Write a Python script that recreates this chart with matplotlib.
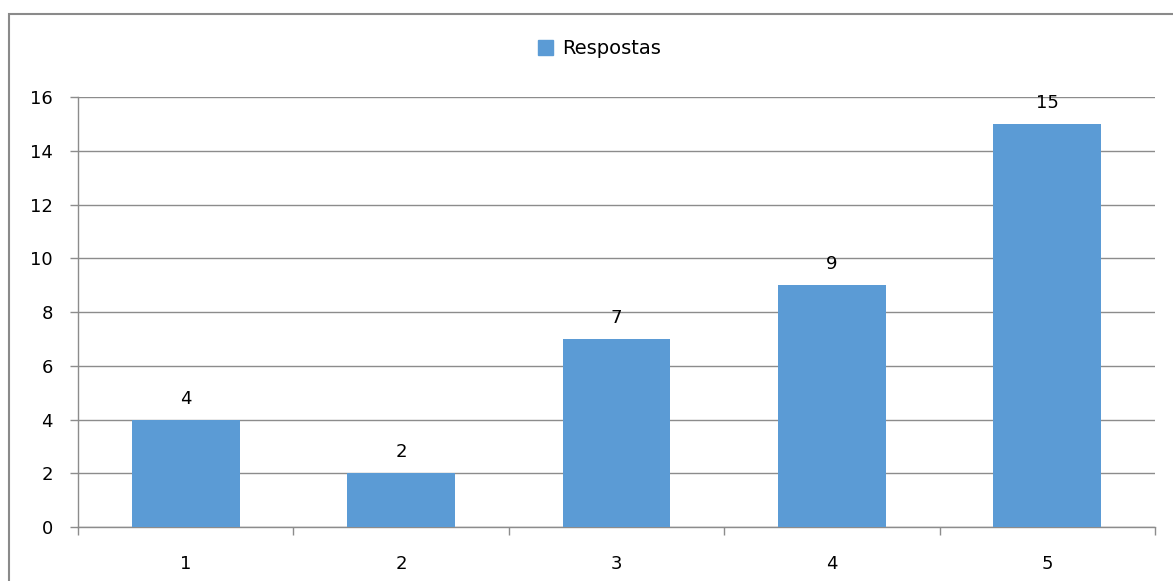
import matplotlib
matplotlib.use("Agg")
import matplotlib.pyplot as plt
from matplotlib.patches import Patch, Rectangle

# data
categories = ["1", "2", "3", "4", "5"]
respostas = [4, 2, 7, 9, 15]
yticks = [0, 2, 4, 6, 8, 10, 12, 14, 16]

bar_color = "#5B9BD5"
grid_color = "#8c8c8c"

fig = plt.figure(figsize=(11.73, 5.81), dpi=100)
ax = fig.add_axes([0.0665, 0.0929, 0.9182, 0.7401])

x = list(range(len(categories)))
bars = ax.bar(x, respostas, width=0.5, color=bar_color, zorder=3)

# value labels over each bar
for xi, v in zip(x, respostas):
    ax.annotate(str(v), (xi, v), xytext=(0, 11.5), textcoords="offset points",
                ha="center", va="baseline", fontsize=13, color="black")

ax.set_xlim(-0.5, len(categories) - 0.5)
ax.set_ylim(0, 16)
ax.set_yticks(yticks)
ax.set_yticklabels([str(t) for t in yticks], fontsize=13)

# category labels in the middle, tick marks on the boundaries
ax.set_xticks(x)
ax.set_xticklabels(categories, fontsize=13)
ax.set_xticks([i - 0.5 for i in range(len(categories) + 1)], minor=True)
ax.tick_params(axis="x", which="major", length=0, pad=20)
ax.tick_params(axis="x", which="minor", length=6, width=1, color=grid_color, direction="out")
ax.tick_params(axis="y", length=6, width=1, color=grid_color, direction="out", pad=12)

ax.yaxis.grid(True, color=grid_color, linewidth=1)
ax.set_axisbelow(True)
for side in ["top", "right"]:
    ax.spines[side].set_visible(False)
for side in ["left", "bottom"]:
    ax.spines[side].set_color(grid_color)
    ax.spines[side].set_linewidth(1)

# legend above the plot
fig.legend(handles=[Patch(color=bar_color, label="Respostas")],
           loc="center", bbox_to_anchor=(0.511, 0.916), frameon=False,
           fontsize=14, handlelength=0.8, handleheight=0.8, handletextpad=0.45)

# chart area border
fig.patches.append(Rectangle((9 / 1173, -0.1), 1.1, 1.1 - 14 / 581,
                             transform=fig.transFigure, fill=False,
                             edgecolor="#8a8a8a", linewidth=1.5))

fig.savefig("out.png", dpi=100)
